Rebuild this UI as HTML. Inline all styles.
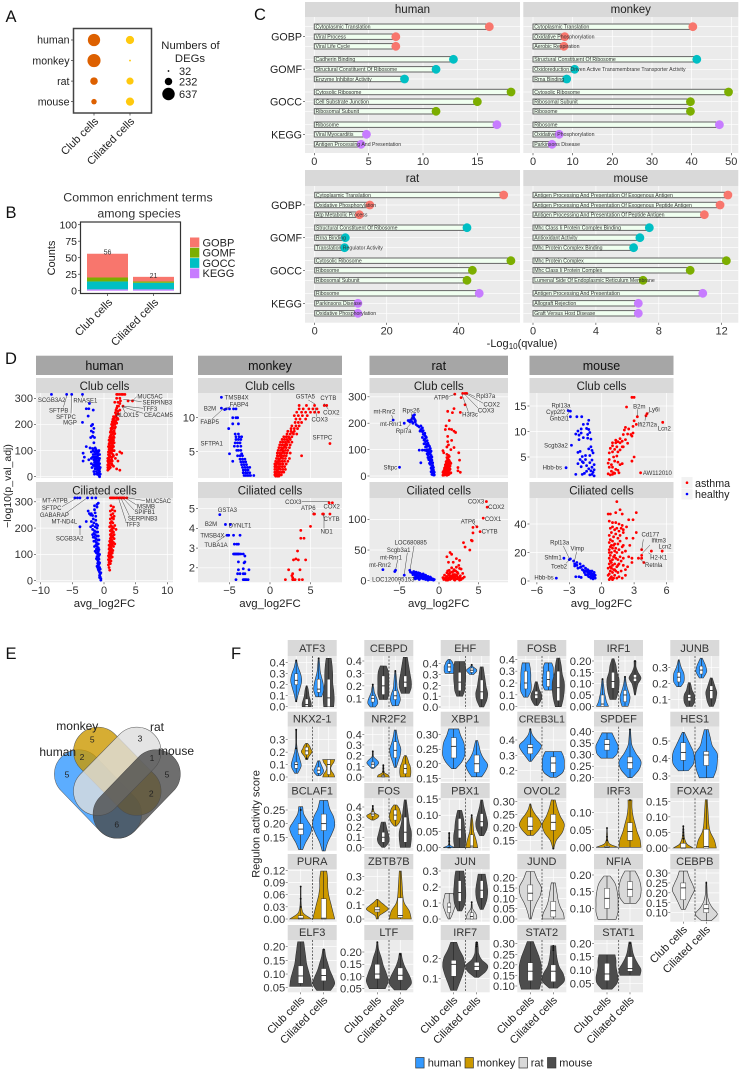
<!DOCTYPE html>
<html lang="en">
<head>
<meta charset="utf-8">
<title>Multi-species asthma figure</title>
<style>
html,body{margin:0;padding:0;background:#fff;}
svg{display:block;font-family:"Liberation Sans",sans-serif;}
</style>
</head>
<body>
<svg id="figure" xmlns="http://www.w3.org/2000/svg" width="740" height="1071" viewBox="0 0 740 1071">
<rect width="740" height="1071" fill="#fff"/>
<g font-size="16.5" fill="#111" text-anchor="middle">
<text x="11" y="22">A</text>
<text x="11" y="218">B</text>
<text x="260" y="20">C</text>
<text x="11" y="364">D</text>
<text x="11" y="659">E</text>
<text x="236" y="659">F</text>
</g>
<g>
<rect x="45.9" y="769.7" width="104.2" height="48.6" rx="24.3" transform="rotate(46 98 794)" fill="#3399ff" fill-opacity=".8" stroke="#555" stroke-width=".5"/>
<rect x="65.2" y="747" width="104.2" height="48.6" rx="24.3" transform="rotate(45.5 117.3 771.3)" fill="#cc9900" fill-opacity=".8" stroke="#555" stroke-width=".5"/>
<rect x="65.2" y="747" width="104.2" height="48.6" rx="24.3" transform="rotate(-45.5 117.3 771.3)" fill="#dddddd" fill-opacity=".8" stroke="#555" stroke-width=".5"/>
<rect x="84.6" y="769.7" width="104.2" height="48.6" rx="24.3" transform="rotate(-46 136.7 794)" fill="#4a4a4a" fill-opacity=".8" stroke="#444" stroke-width=".5"/>
<g font-size="12" fill="#222" text-anchor="middle">
<text x="77.3" y="730">monkey</text>
<text x="157" y="731">rat</text>
<text x="57.7" y="756">human</text>
<text x="176" y="755">mouse</text>
</g>
<g font-size="8.5" fill="#222" text-anchor="middle">
<text x="92.3" y="742.3">5</text>
<text x="140" y="741.7">3</text>
<text x="82" y="760">2</text>
<text x="152" y="761">1</text>
<text x="67" y="777.7">5</text>
<text x="167" y="777.3">5</text>
<text x="151.3" y="796.7">2</text>
<text x="116.7" y="827.7">6</text>
</g>
</g>
<g font-size="11" fill="#222">
<rect x="415.7" y="1057.5" width="8.4" height="10.5" fill="#3399ff" stroke="#333" stroke-width=".7"/>
<text x="427.7" y="1066.5">human</text>
<rect x="465" y="1057.5" width="8.4" height="10.5" fill="#cc9900" stroke="#333" stroke-width=".7"/>
<text x="476.7" y="1066.5">monkey</text>
<rect x="519" y="1057.5" width="8.4" height="10.5" fill="#d9d9d9" stroke="#333" stroke-width=".7"/>
<text x="530.7" y="1066.5">rat</text>
<rect x="547.5" y="1057.5" width="8.4" height="10.5" fill="#4d4d4d" stroke="#333" stroke-width=".7"/>
<text x="559.3" y="1066.5">mouse</text>
</g>
<text x="0" y="0" transform="translate(259.5 824) rotate(-90)" font-size="11" fill="#222" text-anchor="middle">Regulon activity score</text>
<g font-size="10.7" fill="#222">
<rect x="681.5" y="477" width="11" height="11" fill="#f2f2f2"/>
<rect x="681.5" y="488.5" width="11" height="11" fill="#f2f2f2"/>
<circle cx="687" cy="482.7" r="1.3" fill="#ff0000"/>
<circle cx="687" cy="494" r="1.3" fill="#0000ff"/>
<text x="695" y="487">asthma</text>
<text x="695" y="498">healthy</text>
</g>
<text transform="translate(11 486) rotate(-90)" font-size="10.5" fill="#222" text-anchor="middle">−log10(p_val_adj)</text>
<text x="522" y="347" font-size="11" fill="#222" text-anchor="middle">-Log<tspan font-size="8" dy="2">10</tspan><tspan dy="-2">(qvalue)</tspan></text>
</svg>
<script>
/* ---------- panel A data ---------- */
const degSpecies=['human','monkey','rat','mouse'];
const degCells=['Club cells','Ciliated cells'];
const degClub=[560,637,210,110];
const degCiliated=[250,14,190,250];
const degLegendSizes=[32,232,637];
/* ---------- panel B data ---------- */
const termCategories=['GOBP','GOMF','GOCC','KEGG'];
const termClub=[36,6,12,2];
const termCiliated=[7,2,10,2];
const termTicks=[0,25,50,75,100];
/* ---------- panel C data ---------- */
const humanTerms=['Cytoplasmic Translation','Viral Process','Viral Life Cycle','Cadherin Binding','Structural Constituent Of Ribosome','Enzyme Inhibitor Activity','Cytosolic Ribosome','Cell Substrate Junction','Ribosomal Subunit','Ribosome','Viral Myocarditis','Antigen Processing And Presentation'];
const humanScores=[16.1,7.5,7.5,12.8,11.2,8.3,18.1,15,11.2,16.8,4.8,4.3];
const monkeyTerms=['Cytoplasmic Translation','Oxidative Phosphorylation','Aerobic Respiration','Structural Constituent Of Ribosome','Oxidoreduction Driven Active Transmembrane Transporter Activity','Rrna Binding','Cytosolic Ribosome','Ribosomal Subunit','Ribosome','Ribosome','Oxidative Phosphorylation','Parkinsons Disease'];
const monkeyScores=[40.3,8,7.8,41.3,10.5,8.5,49.3,39.7,39.7,47,6.6,4.8];
const ratTerms=['Cytoplasmic Translation','Oxidative Phosphorylation','Atp Metabolic Process','Structural Constituent Of Ribosome','Rrna Binding','Translation Regulator Activity','Cytosolic Ribosome','Ribosome','Ribosomal Subunit','Ribosome','Parkinsons Disease','Oxidative Phosphorylation'];
const ratScores=[52.5,15.3,12.4,42.3,8.5,8.3,54.5,43.8,42.3,45.7,12,12];
const mouseTerms=['Antigen Processing And Presentation Of Exogenous Antigen','Antigen Processing And Presentation Of Exogenous Peptide Antigen','Antigen Processing And Presentation Of Peptide Antigen','Mhc Class Ii Protein Complex Binding','Antioxidant Activity','Mhc Protein Complex Binding','Mhc Protein Complex','Mhc Class Ii Protein Complex','Lumenal Side Of Endoplasmic Reticulum Membrane','Antigen Processing And Presentation','Allograft Rejection','Graft Versus Host Disease'];
const mouseScores=[12.4,11.9,10.9,7.4,6.8,6.4,12.3,10,7,10.8,6.7,6.7];
/* ---------- panel D data: flat x,y pairs ---------- */
const humanClubRed=[.6,25,.6,35,.7,30,.7,45,.8,30,.8,50,.6,60,.7,70,.8,65,.9,40,.9,80,1,35,1,60,1,90,.7,95,.8,105,.9,110,1,115,1.1,100,1.1,75,1.2,50,1.3,45,1.5,40,.8,125,.9,130,1,140,1.1,130,1.2,120,1.3,110,1.4,100,1,155,1.1,160,1.2,150,1.3,145,1.4,135,1.1,175,1.2,180,1.3,170,1.4,165,1.5,155,1.6,130,1.3,190,1.4,195,1.5,185,1.6,175,1.7,165,1.5,205,1.6,215,1.7,200,1.8,190,1.6,225,1.8,230,1.9,215,2,205,1.8,245,2,240,2.1,225,2.2,250,2,262,2.3,270,2.5,255,1.7,285,2.2,285,2.6,290,2.5,300,2,300,2,315,2.2,315,2.5,315,2.8,315,3,315,3.3,315,3.8,290,3,270,2.5,280,4.5,290,2.5,95,2.8,90,1.6,100,2,85,1.8,70,2.2,60,2,30,2.5,25,1.5,80,.7,85,.9,60,1.1,50,.8,80,.6,45,.7,115,.8,140,.9,150,1,170,1.1,185,1.2,200,1.3,210,1.4,220,1.5,230,.9,95,1.2,90,1.3,75,1.3,60,1.2,65,.7,55,.6,70,2.2,220,2.3,240,2.1,270,1.9,255,1.4,120,1.5,115,1.5,140,1.6,150,1.7,185,1.9,235,1.8,210,1.3,130,1.2,135,1.2,105,1,105,1.4,85,1,75,1.5,170,1.7,215,2,225,1.4,210,1.1,145,.9,120];
const humanClubBlue=[-.7,0,-.8,5,-.6,10,-.9,8,-1,15,-1.2,20,-.8,25,-.7,20,-1.5,10,-1.1,35,-1,40,-.8,40,-.7,50,-.9,55,-1.3,50,-1.5,55,-1.1,60,-.9,70,-1,80,-1.2,75,-1.4,70,-1.1,90,-.9,95,-.8,100,-1.3,105,-1.5,95,-1.7,85,-2,70,-2.4,65,-3.3,60,-3.1,75,-3.3,90,-2.8,115,-2.2,110,-1.6,130,-1.5,150,-1.8,155,-2.1,150,-1.7,170,-2,175,-1.6,185,-2,195,-1.8,200,-3.4,208,-2.5,232,-1.7,255,-2.4,260,-2.8,260,-2.3,280,-3.4,315,-5.1,315,-5.9,315,-8.3,315,-.8,12,-1,28,-1.2,32,-1,52,-.8,62,-1.2,42,-1.4,30,-1.6,20,-1.1,10,-.9,30,-1.3,88,-1.1,70,-.9,85,-1.2,100,-1.4,85,-1.8,108,-.7,30,-.6,35,-1.5,40,-1.6,65,-1.9,35,-2,50,-1.7,45,-1.3,62,-1.5,75,-1.7,100,-1.4,110,-2,95,-1.8,75,-.7,70,-.7,85,-1.2,55,-1.4,45,-.9,45];
const humanCilRed=[.9,40,.8,50,.7,60,.8,70,.9,75,1,65,.7,80,.8,90,.9,95,1,85,1.1,75,.8,105,.9,110,1,100,1.1,95,1.3,90,.8,120,.9,125,1,115,1.1,110,1.3,105,.9,135,1,130,1.1,125,1.2,120,1.4,115,1,145,1.1,150,1.2,140,1.3,135,1.5,130,1,160,1.1,165,1.2,155,1.3,150,1.5,145,1.1,175,1.2,180,1.3,170,1.4,165,1.6,160,1,190,1.2,195,1.3,190,1.5,185,.9,205,1.1,210,1.3,205,1.5,200,1,220,1.2,225,1.4,220,1,235,1.3,240,1.5,235,1.1,250,1.4,255,1,265,1.3,270,1.7,265,1.1,285,1.5,280,1,315,1.2,315,1.4,315,1.6,315,1.9,315,2.1,315,2.4,315,2.6,315,2.8,315,3,315,3.2,315,3.6,315,.7,95,.8,135,.9,150,1,175,1.7,140,1.6,175,1.7,210,1.6,245,1.9,195];
const humanCilBlue=[-.5,2,-.5,8,-.6,14,-.7,20,-.6,26,-.7,32,-.8,38,-.6,44,-.7,50,-1.1,55,-.9,58,-.8,62,-.7,68,-.9,72,-1,78,-.8,82,-.9,88,-1.1,92,-.8,96,-1,102,-1.2,106,-.9,110,-1,116,-1.2,120,-.9,125,-1.1,130,-1.3,134,-1,140,-1.2,145,-1.4,150,-1,155,-1.3,160,-1.5,165,-1.1,170,-1.4,175,-1.6,180,-1.2,185,-1.5,190,-1.8,195,-1.1,200,-1.4,205,-1.8,210,-2.1,205,-1.2,215,-1.6,220,-2,225,-2.8,225,-3.8,205,-1.3,230,-1.7,235,-1.3,245,-1.8,248,-1.4,258,-2,255,-1.5,270,-2.3,255,-2.5,265,-2.1,250,-1.5,285,-1.1,280,-.9,295,-1.1,290,-1.9,315,-1.3,315,-2.6,315,-3.8,315,-4.2,315,-4.6,315,-.5,30,-.9,42,-1,66,-1.2,84,-.7,100,-.8,118,-.9,140,-1.5,130,-.8,155,-1.4,112,-.7,12,-1,50,-1.6,150,-1.7,165,-1.8,175,-.9,170,-1,185,-1,210];
const monkeyClubRed=[.6,1.6,.8,1.6,1,1.6,1.2,1.6,1.4,1.6,.6,2,.8,2,1,2,1.2,2,1.5,2,1.7,2,.6,2.4,.8,2.4,1,2.4,1.3,2.4,1.6,2.4,1.9,2.4,.6,2.8,.8,2.8,1,2.8,1.2,2.8,1.5,2.8,1.8,2.8,.6,3.2,.8,3.2,1.1,3.2,1.3,3.2,1.6,3.2,2,3.2,.7,3.6,1,3.6,1.2,3.6,1.5,3.6,1.8,3.6,2.2,3.6,.8,4,1,4,1.3,4,1.6,4,1.9,4,2.4,4,3.9,4.4,.9,4.4,1.1,4.4,1.4,4.4,1.7,4.4,2,4.4,.9,4.8,1.2,4.8,1.5,4.8,1.8,4.8,2.1,4.8,2.5,4.8,1,5.2,1.3,5.2,1.6,5.2,1.9,5.2,2.2,5.2,1.1,5.6,1.4,5.6,1.7,5.6,2,5.6,2.4,5.6,1.2,6,1.5,6,1.8,6,2.1,6,2.5,6,1.3,6.4,1.6,6.4,1.9,6.4,2.3,6.4,2.7,6.4,1.5,6.8,1.8,6.8,2.1,6.8,2.5,6.8,1.7,7.2,2,7.2,2.3,7.2,2.7,7.2,2.1,7.6,2.5,7.6,2.9,7.6,3.3,7.6,2.2,8,2.6,8,3,8,2.6,8.4,3,8.4,3.4,8.4,2.7,8.8,3.2,8.8,3.6,8.8,3.1,9.3,3.5,9.3,3.9,9.3,3.2,9.8,3.7,9.8,4.4,9.8,3,10.3,3.5,10.3,4,10.3,4.6,10.3,3.3,10.8,3.9,10.8,4.4,10.8,5,10.8,5.5,10.8,6,10.8,3.6,11.3,4.1,11.3,4.8,11.3,5.3,11.3,5.8,11.3,5.5,11.8,4.5,11.8,3.6,11.8,6.7,11.8,7,11.8,7.4,6.2,.7,1.4,.9,1.4,1.1,1.4,.7,1.8,.9,2.2,1.1,2.6,.7,3,.9,3.4,1.1,3.8,1.4,4.2,1.3,4.6,1.6,5,1.5,5.4,1.8,5.8,2,6.2,2.2,6.6,2.4,7,2.8,7.8];
const monkeyClubBlue=[-3.2,1.5,-3,1.5,-2.8,1.5,-2.6,1.5,-2.4,1.5,-2,1.5,-3.3,1.9,-3,1.9,-2.8,1.9,-2.5,1.9,-3.3,2.3,-3,2.3,-2.7,2.3,-3.4,2.7,-3.1,2.7,-2.8,2.7,-3.5,3.1,-3.2,3.1,-2.9,3.1,-3.6,3.5,-3.3,3.5,-3,3.5,-4.6,3.6,-3.7,3.9,-3.4,3.9,-3.1,3.9,-4,4.4,-3.7,4.4,-3.4,4.4,-3.5,4.7,-5,4.7,-3.9,5.2,-3.6,5.2,-4.1,5.2,-3.6,5.8,-4,5.8,-4.4,5.8,-4,6.3,-3.7,6.3,-4.3,6.3,-4.2,6.8,-3.9,6.8,-3.6,6.8,-4.2,7.2,-3.8,7.2,-3.5,7.2,-3.9,7.6,-4.3,7.6,-5.1,8.4,-4.6,9.1,-3.9,9.1,-4.6,10,-4.2,10,-4,10,-5,11.3,-4.5,11.3,-4.2,11.3,-5.4,11.3,-6,11.4,-5.6,11.2,-6,13,-7.4,-4,-3.3,1.9,-2.5,2.7];
const monkeyCilRed=[7.3,5.3,7.7,5.3,5.4,4.73,5.5,4.73,6.5,4.73,6.6,4.73,7.4,4.73,5,4.1,3.8,3.9,3.8,3.5,4.2,3.5,3.4,2.85,2.9,2.4,3.2,2.45,3.5,2.4,4.4,2.4,2.3,1.9,2.8,1.7,3.7,1.9,1.9,1.4,2.7,1.6,2.8,1.5,3,1.4,3.1,1.4,2.8,1.4,3.6,1.4,4,1.4];
const monkeyCilBlue=[-6.2,4.7,-5.5,4.2,-4.9,4.2,-5.3,3.65,-5.1,3.65,-4.5,3.65,-3.7,3.65,-4.4,3.2,-4.1,3.2,-3.9,3.2,-4.5,2.7,-4.4,2.7,-4.3,2.7,-4.2,2.7,-4.1,2.7,-4,2.7,-3.9,2.7,-3.8,2.7,-3.6,2.7,-3.3,2.7,-3.1,2.6,-3.9,2.3,-3.1,2.3,-3.2,2.25,-3.9,1.9,-2.6,1.9,-3.3,1.95,-4,1.7,-3.7,1.7,-3.3,1.7,-3.1,1.7,-4.2,1.4,-3.3,1.4,-3.2,1.4,-3.1,1.4,-3,1.4,-2.9,1.4,-2.7,1.4];
const ratClubRed=[.5,3,.6,8,.7,4,.8,12,.9,6,1,3,1.1,10,1.2,5,.5,14,.6,20,.7,18,.8,24,.9,16,1,22,1.1,18,1.2,14,1.3,8,.7,30,.8,34,.9,28,1,32,1.1,26,1.2,24,1.3,22,1.5,12,.8,42,.9,46,1,40,1.1,38,1.2,34,1.3,30,1.4,26,.9,54,1,58,1.1,50,1.2,48,1.3,44,1.4,38,.5,96,.6,88,1,70,1.1,66,1.2,62,1.3,58,1.4,52,1.5,48,1,82,1.2,78,1.3,74,2.4,20,2.4,32,2.7,14,2.6,60,2.5,88,1,110,1.2,118,1.5,100,1.9,108,1.6,135,1.1,130,1.1,150,1.6,176,1.3,178,.9,190,.8,176,2.1,165,1.9,170,1.3,210,1.7,240,1.1,245,1.9,255,2.7,241,3.3,270,2.8,297,2,310,3,313,3.3,313,3.5,313,.6,12,.7,10,.8,6,.9,20,.7,24,.8,18,1,14,1.2,20,1.3,36,1.1,32,1,46];
const ratClubBlue=[-.6,4,-.6,14,-.7,10,-.7,22,-.9,6,-1,16,-.8,30,-.9,24,-1.1,44,-.8,40,-.9,36,-1,30,-1,50,-1.1,56,-1.2,48,-.9,60,-1,68,-1.1,64,-1.2,72,-1.3,62,-1.4,80,-1.2,84,-1.1,88,-1.3,92,-1.4,88,-2.3,50,-1.8,98,-2.1,98,-2.5,98,-1.5,100,-1.6,96,-1.3,100,-1.5,112,-1.3,116,-1.6,120,-1.4,124,-1.7,130,-1.5,134,-1.8,140,-1.6,146,-1.9,136,-1.8,154,-2,158,-1.8,162,-2.1,168,-2,172,-2.3,176,-2.1,182,-2.5,186,-2.3,190,-2.7,190,-2.9,195,-3,205,-3,210,-3.3,200,-3.1,215,-3.4,218,-3.2,222,-3.6,212,-3.7,205,-3.9,210,-3.3,228,-3.1,232,-3.4,206,-5,33,-4.4,200,-5.8,212,-.7,32,-.8,50,-.9,72,-1,78,-1,94,-1.1,104,-1.2,112,-1.5,84,-1.4,70,-.8,14,-.7,4,-1.7,110,-1.9,122,-1.7,150,-2.1,146,-2.4,170];
const ratCilRed=[6,129,6.1,120,5.6,102,4.8,88,5.2,80,4.3,87,4.3,78,4.1,66,4.2,65,3.1,62,3.3,55,3.9,50,1.4,46,1.6,43,1,39,2.2,36,2.6,33,1.8,30,1.2,30,.6,2,.8,4,.9,1,1,7,1.1,3,1.2,11,1.3,5,1.4,2,1.5,8,1.6,14,1.7,4,1.8,10,1.9,2,2,6,2.1,16,2.2,9,2.3,3,2.4,12,2.5,5,2.6,20,2.7,8,2.8,2,3,12,3.2,6,.7,9,1,13,1.3,17,1.6,21,1.9,18,2.2,22,2.5,25,2.8,19,.9,5,1.5,3,2,10,2.4,4,.5,5,1.1,1,1.3,9,1.7,8,1.9,6,2.1,3,2.3,7,2.7,4,3,4,1.4,13,1.8,15,2.3,14,1.1,16,1.6,6,2,1,2.6,1];
const ratCilBlue=[-7.1,18,-5.5,17,-5.6,15,-4.4,9,-3.7,17,-3.6,14,-3.4,13,-3.2,15,-3.1,12,-2.9,14,-2.8,4,-2.8,11,-2.6,13,-2.5,9,-2.4,12,-2.2,10,-2.1,6,-2,11,-1.9,8,-1.8,5,-1.7,9,-1.6,6,-1.5,3,-1.4,7,-1.3,5,-1.2,2,-1.1,6,-1,4,-.9,2,-.8,3,-.7,1,-.6,2,-2.9,7,-2.6,5,-2.3,4,-2,3,-1.7,2,-1.4,1,-3.1,5,-3,3,-2.5,2,-3.3,10,-2.7,8,-2.3,7,-1.8,7,-1.5,5,-1.2,4,-1.6,4,-2.1,8,-1,2,-3,9,-2.4,9];
const mouseClubRed=[.6,1.7,.7,3,.8,1.5,.9,2.2,1,1.6,1.1,1.9,1.2,1.8,.6,3.8,.7,4.5,.9,3.5,1,3,1.3,2.6,1.5,2.4,1.7,3.5,1.6,1.9,1.9,3.7,.7,5.8,.8,6.7,1,6,1.1,5,1.2,4.2,1.4,5.2,1.5,4,1,7.2,1.2,6.5,1.4,7,1.5,6,1.7,6.4,1,7.8,1.3,7.8,1.5,8,1.7,7.8,1.9,7,2,7,1.7,8.6,1.9,8.1,1.3,8.3,2.2,8.4,2.4,7.7,2,9.4,2.1,10.3,2.2,10.8,2.4,9.5,2.7,9.4,2.8,9.1,2.9,9.7,2.5,10.5,2.9,11,3,12.1,3.2,11.4,3.3,12.9,2.3,14.8,2.8,16.7,3,16.7,4.2,13.5,4.1,13.1,5.65,11.8,3,5,2.8,4.2,3.6,1.9];
const mouseClubBlue=[-3.1,14.1,-2.9,14,-2.9,12.9,-2.3,12.9,-1.85,12.9,-1.2,12.2,-1.3,11.5,-1.7,11.4,-1.9,10.5,-2.2,10.1,-1.9,9.7,-1.4,10.6,-1.2,10.4,-1.1,9.8,-2.4,9.5,-2.1,9.3,-1.3,9.4,-1,8.5,-1.3,8.7,-1.7,8.8,-2.1,8.4,-2.8,7.3,-1,7,-.9,6.3,-1.2,6.6,-2,6.1,-2.2,5.9,-1.1,5.3,-1.5,5.3,-1.8,5.1,-.8,5.8,-2,4.5,-1.5,4.5,-.9,4.4,-1.1,3.9,-1.7,3.9,-2.2,3.7,-.7,3.5,-1.4,3.3,-1.9,3.1,-.9,3,-1.2,2.7,-.7,2.5,-1,2.3,-.8,2,-1.4,2.2,-1.6,1.8,-.9,1.6,-1.1,1.5,-.7,1.3,-2.4,1.6,-1.8,1.6,-3.3,2.9,-1.8,4.1];
const mouseCilRed=[.7,1,.8,2,.9,3,1,1,1.1,2,1.2,4,1.4,2,1.6,3,1.9,2,.7,5,.8,7,.9,9,1,6,1.1,8,1.3,7,1.5,6,1.8,7,2.2,8,.7,12,.8,14,.9,13,1,11,1.2,12,1.4,10,1.6,12,2,11,2.4,10,.7,16,.8,18,.9,20,1.1,17,1.3,16,1.5,15,1.7,17,2,16,2.5,17,2.8,16,3.4,16,3.7,16,.7,22,.8,24,1,23,1.2,21,1.4,20,1.6,22,1.9,20,2.2,21,.7,27,.8,29,1,28,1.2,26,1.5,26,1.7,28,2,25,2.6,25,.7,32,.9,34,1.1,31,1.3,33,1.5,30,1.7,32,2,34,2.3,30,2.9,30,3.2,34,.8,37,1,38,1.2,36,1.4,37,1.6,35,1.8,37,2,36,2.3,38,.7,42,1,41,1.3,41,1.6,40,1.9,39,2.5,43,2.9,43,.6,47,.8,47,1.3,48,1.7,50,1.9,47,1.4,55.7,3.2,48,3.7,22,3.7,18,4.6,21,5.6,21,3.9,13,2.8,13,2.2,4,1,15,1.2,8,.8,10,.6,4,.6,9,.7,20,.9,25,1.1,25,1.3,23,1.9,24,1.2,18,1.5,11,1.8,14];
const mouseCilBlue=[-4.2,2,-3.5,16,-3,15,-2.9,15.5,-2.6,14,-2.5,12,-2.5,10.5,-2.3,13,-2,12,-1.9,10,-2.2,9,-1.8,8,-1.7,10.5,-1.5,9,-1.4,7,-1.6,6,-1.3,8,-1.2,5.5,-1.1,7,-1,6,-.9,4,-.8,5,-.7,3,-.6,2,-1.1,3,-1.3,4,-1.5,4.5,-2.4,3,-2.1,3,-1.9,2.5,-1,2,-.8,1.5,-.6,4,-.7,6,-.9,7,-1.2,3,-1.5,7,-1.3,6,-1,4.5,-.8,3,-1.1,5,-.9,2.5,-.7,4.5,-1.7,7.5,-1.2,7,-2,9.5,-2.3,11];
/* ---------- panel F data: [species, low, high, density profile, q1, median, q3, outliers] ---------- */
const violinATF3=[['human',.05,.42,[.5,2,4,5.5,4.5,2,.5],.2,.24,.3,[.05,.42]],['mouse',0,.19,[4.5,4.5,3.5,2.5,2,1.5,.5],0,.02,.07,[]],['human',.09,.44,[3,5,4.5,3,1.5,1,.5],.13,.16,.25,[.44]],['mouse',0,.44,[5,5.5,5,4,4,3.5,2.5],0,.08,.25,[]]];
const violinCEBPD=[['human',.03,.21,[2.5,5,4.5,3,1.5,1,.3],.07,.1,.12,[.21]],['mouse',.09,.36,[4,5.5,5.5,5.5,5.5,5,3],.13,.2,.28,[]],['human',.04,.32,[3,5,4,2,1.5,1,.5],.09,.12,.16,[.32]],['mouse',.14,.43,[4,6,6,5,4,3,2],.19,.23,.28,[]]];
const violinEHF=[['human',.31,.44,[4,5,5,5,4,3,1],.33,.37,.4,[]],['mouse',.1,.42,[3,5,5.5,6,6,6,5],.15,.23,.32,[]],['human',.3,.39,[2,3.5,5,5,3,1,.5],.32,.34,.36,[.39]],['mouse',0,.37,[2,5,6,4.5,3.5,2.5,1.5],.07,.14,.25,[]]];
const violinFOSB=[['human',.08,.37,[2,5,5.5,5,5,4.5,3.5],.15,.2,.3,[]],['mouse',.01,.21,[1.5,4,5.5,5,3,2,1],.07,.1,.13,[]],['human',.14,.37,[3.5,5.5,5.5,5.5,5,5,3.5],.17,.23,.3,[]],['mouse',0,.41,[3,5,6,6,4,3,1.5],.05,.16,.3,[]]];
const violinIRF1=[['human',0,.12,[6,4,3,2,1.5,1,.5],0,.01,.05,[.12]],['mouse',.03,.21,[3,5,6,6,4,3,1],.08,.11,.15,[]],['human',0,.13,[3,4.5,5,3.5,2,1,.5],.02,.05,.07,[.13]],['mouse',.05,.2,[.5,1.5,3,6,3,1,1],.11,.125,.14,[.2]]];
const violinJUNB=[['human',.18,.35,[2,5,5.5,5,3,1.5,.5],.21,.24,.27,[]],['mouse',.055,.205,[3,5,5.5,5,3,2,1],.09,.11,.13,[]],['human',.235,.36,[2,4,5.5,5,4,2.5,1],.26,.285,.31,[]],['mouse',.055,.235,[2,4,5,5.5,4,2.5,1],.105,.155,.185,[]]];
const violinNKX21=[['human',.03,.38,[1.5,5,3.5,1.5,.5,.5,.5],.07,.1,.12,[.23,.38]],['monkey',.14,.27,[1,2,4,5.5,4,3,1],.18,.21,.24,[.15]],['human',.01,.13,[1.5,4,5,4,3,2,1],.03,.055,.08,[]],['monkey',0,.14,[6,5,3,2,3,5,6],.02,.1,.14,[]]];
const violinNR2F2=[['human',.08,.24,[1,4,6,4,1,.5,.5],.09,.12,.14,[.24]],['monkey',0,.11,[6,5,1.5,.7,.5,.5,.5],0,.01,.02,[.05,.08,.11]],['human',.09,.44,[1,3,5,5.5,3.5,2,1],.18,.25,.33,[]],['monkey',0,.2,[5,5.5,5.5,5,3.5,2.5,1],.03,.08,.12,[]]];
const violinXBP1=[['human',.183,.32,[2,8,11,11,10,7,5],.22,.26,.29,[]],['human',.155,.28,[5,9,11,7,4,2.5,1],.17,.2,.23,[]]];
const violinCREB3L1=[['human',.26,.47,[1,5,9,11,6,2,.5],.31,.35,.37,[.47]],['human',.157,.325,[3,9,11,11,11,10,8],.19,.25,.29,[]]];
const violinSPDEF=[['human',.285,.395,[6,10,11,11,9,7,5],.32,.345,.365,[]],['human',.2,.41,[2,9,11,6,2,1,.5],.24,.265,.29,[.41]]];
const violinHES1=[['human',.33,.55,[5,10,11,10,7,4,1],.39,.435,.49,[]],['human',.29,.565,[7,10,11,11,6,4,2],.36,.42,.44,[]]];
const violinBCLAF1=[['human',.105,.262,[2,5,9,11,7,3,2],.16,.18,.2,[.25]],['human',.1,.285,[1.5,4,8,11,10,6,4],.175,.2,.235,[]]];
const violinFOS=[['monkey',.27,.41,[1,5,6,2,1,.5,.5],.31,.33,.35,[.38,.41]],['mouse',0,.25,[1.5,5,6,5,4,3,2],.05,.1,.15,[]],['monkey',.21,.42,[1,4,5.5,6,5,4,1.5],.27,.32,.37,[]],['mouse',0,.47,[5,6,6,4,3,2,1],.05,.15,.3,[]]];
const violinPBX1=[['human',0,.045,[6,1,.5,.5,.5,.5,.5],0,0,.001,[.01,.02,.03,.045]],['mouse',0,.115,[5,6,6,5,4.5,3.5,2],.03,.055,.09,[]],['monkey',0,.1,[6,5,3.5,2,1.5,1,.3],0,.005,.04,[.1]],['mouse',.037,.147,[2,5,6,5,3.5,2,1],.065,.08,.105,[]]];
const violinOVOL2=[['monkey',.17,.29,[3,8,11,9,5,2,.5],.19,.205,.24,[]],['monkey',.12,.305,[.5,3,9,11,7,4,2],.19,.22,.25,[.12]]];
const violinIRF3=[['monkey',0,.055,[11,3,1,.5,.5,.3,.3],0,0,.003,[.02,.03,.055]],['monkey',0,.135,[11,10,7,5,3,2,2],.02,.045,.07,[.135]]];
const violinFOXA2=[['monkey',0,.07,[10,4,2,1,.7,.5,.3],0,0,.015,[.03,.04,.05,.06,.07]],['monkey',0,.155,[10,8,4,2.5,2,1.5,1],0,.005,.06,[]]];
const violinPURA=[['monkey',0,.08,[11,3,1,.5,.3,.3,.3],0,.002,.008,[.03,.05,.08]],['monkey',0,.118,[11,9,7,5,4,4,3],0,.002,.05,[]]];
const violinZBTB7B=[['monkey',0,.14,[1,2,7,11,8,4,.5],.05,.065,.085,[]],['monkey',0,.34,[11,9,4,2.5,2,1.5,1],.01,.025,.15,[]]];
const violinJUN=[['rat',0,.16,[1,3,4.5,6,6,5,4],.04,.075,.1,[]],['mouse',.05,.3,[2,5,6,6,5.5,5,4],.11,.165,.24,[]],['rat',0,.105,[5,5,4,2,.7,.5,.3],0,.015,.04,[.105]],['mouse',.06,.28,[1.5,4,5.5,6,5.5,4.5,3.5],.13,.18,.24,[]]];
const violinJUND=[['rat',0,.23,[1,3,6,10,11,7,4],.09,.125,.165,[]],['rat',0,.175,[11,10,7,5,4,3,2],.01,.04,.085,[]]];
const violinNFIA=[['rat',.067,.197,[9,11,11,11,10,8,3],.1,.13,.16,[]],['rat',.115,.212,[6,10,11,11,10,8,5],.135,.157,.18,[]]];
const violinCEBPB=[['rat',.117,.31,[2,5,8,11,9,6,4],.165,.225,.25,[]],['rat',.06,.255,[5,11,6,2.5,1,.7,.3],.1,.12,.14,[.25]]];
const violinELF3=[['mouse',.055,.218,[11,10,8,6,5,4,3],.066,.093,.13,[]],['mouse',.04,.19,[7,11,9,6,4,2,1],.075,.095,.12,[.19]]];
const violinLTF=[['mouse',.05,.24,[8,11,9,6,4,1.5,.5],.09,.11,.15,[.24]],['mouse',.045,.195,[6,11,10,7,4,2,1],.085,.105,.135,[.19]]];
const violinIRF7=[['mouse',.04,.28,[3,6,9,11,10,6,3],.11,.17,.19,[]],['mouse',.105,.28,[2,9,11,5,2,1.5,1],.14,.16,.18,[.26,.27,.28]]];
const violinSTAT2=[['mouse',.085,.31,[9,11,11,11,9,6,3],.125,.17,.21,[]],['mouse',.09,.29,[4,11,10,6,4,3,2.5],.12,.17,.2,[.27,.28,.29]]];
const violinSTAT1=[['mouse',.028,.157,[5,10,11,10,9,9,8],.06,.085,.125,[]],['mouse',.08,.205,[10,11,8,5,3,2,1],.095,.105,.15,[.2]]];

const svgNS='http://www.w3.org/2000/svg';
const root=document.getElementById('figure');
function mk(tag,attrs,parent,txt){
  const el=document.createElementNS(svgNS,tag);
  for(const k in attrs) el.setAttribute(k,attrs[k]);
  if(txt!==undefined) el.textContent=txt;
  (parent||root).appendChild(el);
  return el;
}
function tag(el,name){
  
  
  return el;
}
function group(name,parent){return tag(mk('g',{},parent),name);}
function slug(s){return String(s).toLowerCase().replace(/[^a-z0-9]+/g,'-');}
const INK='#222',GRID='#fff',PANEL='#ebebeb',STRIP='#d9d9d9';
function fmtMinus(t){return String(t).replace('-','−');}
function rotLabel(g,text,x,y,size){
  tag(mk('text',{transform:`translate(${x} ${y}) rotate(-45)`,'font-size':size,fill:INK,'text-anchor':'end'},g,text),'x-tick-label-'+slug(text));
}

/* ========== Panel A ========== */
(function(){
  const g=group('deg-dot-plot');
  const xA=j=>94+36*j, yA=i=>40+i*20.55, rA=n=>.26*Math.sqrt(n);
  tag(mk('rect',{x:73.5,y:28.5,width:78,height:84.5,fill:'#fff',stroke:'#444','stroke-width':1.5},g),'dot-plot-frame');
  degSpecies.forEach((s,i)=>{
    tag(mk('text',{x:69.5,y:yA(i)+3.7,'font-size':10.6,fill:INK,'text-anchor':'end'},g,s),'y-tick-label-'+s);
    tag(mk('circle',{cx:xA(0),cy:yA(i),r:rA(degClub[i]),fill:'#dd6000'},g),'dot-club-'+s);
    tag(mk('circle',{cx:xA(1),cy:yA(i),r:rA(degCiliated[i]),fill:'#ffc90e'},g),'dot-ciliated-'+s);
    tag(mk('line',{x1:71,x2:73,y1:yA(i),y2:yA(i),stroke:'#333','stroke-width':.7},g),'y-tick');
  });
  degCells.forEach((c,j)=>{
    tag(mk('line',{x1:xA(j),x2:xA(j),y1:113,y2:115.5,stroke:'#333','stroke-width':.7},g),'x-tick');
    rotLabel(g,c,xA(j)+5,122,11);
  });
  tag(mk('text',{x:190.5,y:49,'font-size':11.3,fill:INK,'text-anchor':'middle'},g,'Numbers of'),'size-legend-title-line-1');
  tag(mk('text',{x:190,y:62,'font-size':11.3,fill:INK,'text-anchor':'middle'},g,'DEGs'),'size-legend-title-line-2');
  degLegendSizes.forEach((n,i)=>{
    const y=[71,81.5,94][i];
    tag(mk('circle',{cx:168.5,cy:y,r:i==0?.9:rA(n)*.95,fill:'#000'},g),'size-legend-dot-'+n);
    tag(mk('text',{x:179,y:y+4,'font-size':11,fill:INK},g,n),'size-legend-label-'+n);
  });
})();

/* ========== Panel B ========== */
(function(){
  const g=group('common-terms-bar-chart');
  const catCols=['#f8766d','#7cae00','#00bfc4','#c77cff'];
  const yB=v=>290.7-v*.66;
  tag(mk('text',{x:138,y:201.5,'font-size':12.4,fill:'#333','text-anchor':'middle'},g,'Common enrichment terms'),'chart-title-line-1');
  tag(mk('text',{x:139,y:217.5,'font-size':12.4,fill:'#333','text-anchor':'middle'},g,'among species'),'chart-title-line-2');
  tag(mk('text',{transform:'translate(55 258) rotate(-90)','font-size':11,fill:INK,'text-anchor':'middle'},g,'Counts'),'y-axis-title');
  tag(mk('rect',{x:80.5,y:222,width:100,height:71.5,fill:'#fff',stroke:'#333','stroke-width':1.2},g),'bar-chart-frame');
  termTicks.forEach(t=>{
    tag(mk('text',{x:77,y:yB(t)+3.7,'font-size':10.5,fill:INK,'text-anchor':'end'},g,t),'y-tick-label-'+t);
    tag(mk('line',{x1:78,x2:80.5,y1:yB(t),y2:yB(t),stroke:'#333','stroke-width':.7},g),'y-tick');
  });
  [termClub,termCiliated].forEach((arr,j)=>{
    const x=87+46*j; let acc=0;
    const total=arr.reduce((a,b)=>a+b,0);
    for(let i=arr.length-1;i>=0;i--){
      tag(mk('rect',{x:x,y:yB(acc+arr[i]),width:41,height:arr[i]*.66,fill:catCols[i]},g),'bar-'+slug(degCells[j])+'-'+termCategories[i].toLowerCase());
      acc+=arr[i];
    }
    tag(mk('text',{x:x+20.5,y:yB(total)+1,'font-size':7,fill:'#333','text-anchor':'middle'},g,total),'bar-total-'+slug(degCells[j]));
    tag(mk('line',{x1:x+20.5,x2:x+20.5,y1:293.5,y2:296,stroke:'#333','stroke-width':.7},g),'x-tick');
    rotLabel(g,degCells[j],x+26,303,11);
  });
  termCategories.forEach((c,i)=>{
    const y=237.5+10.3*i;
    tag(mk('rect',{x:190,y:y,width:9.3,height:9.8,fill:catCols[i]},g),'legend-swatch-'+c.toLowerCase());
    tag(mk('text',{x:202.5,y:y+8.8,'font-size':11,fill:INK},g,c),'legend-label-'+c.toLowerCase());
  });
})();

/* ========== Panel C ========== */
function lollipop(name,terms,scores,px,top,zero,k,xTicks,rows,stripH,panelBottom,labels){
  const g=group('enrichment-facet-'+name);
  const cols=['#f8766d','#00bfc4','#7cae00','#c77cff'];
  const pw=215;
  tag(mk('rect',{x:px,y:top,width:pw,height:stripH,fill:STRIP},g),'strip-'+name);
  tag(mk('text',{x:px+pw/2,y:top+stripH-3.8,'font-size':11.5,fill:INK,'text-anchor':'middle'},g,name),'strip-label-'+name);
  tag(mk('rect',{x:px,y:top+stripH,width:pw,height:panelBottom-top-stripH,fill:PANEL},g),'panel-'+name);
  xTicks.forEach(t=>{
    const x=zero+t*k;
    tag(mk('line',{x1:x,x2:x,y1:top+stripH,y2:panelBottom,stroke:GRID,'stroke-width':.7},g),'x-gridline');
    tag(mk('line',{x1:x,x2:x,y1:panelBottom,y2:panelBottom+2.2,stroke:'#333','stroke-width':.6},g),'x-tick');
    tag(mk('text',{x:x,y:panelBottom+11.8,'font-size':11,fill:'#333','text-anchor':'middle'},g,t),'x-tick-label-'+t);
  });
  rows.forEach(y=>tag(mk('line',{x1:px,x2:px+pw,y1:y,y2:y,stroke:GRID,'stroke-width':.7},g),'y-gridline'));
  terms.forEach((t,i)=>{
    const y=rows[i],xe=zero+scores[i]*k,c=cols[Math.floor(i/3)];
    tag(mk('rect',{x:zero,y:y-2.7,width:xe-zero,height:5.4,fill:'#f0fff0',stroke:'#666','stroke-width':1},g),'term-bar-'+slug(t));
    tag(mk('circle',{cx:xe,cy:y,r:4.4,fill:c},g),'term-dot-'+slug(t));
    tag(mk('text',{x:zero+1.2,y:y+1.8,'font-size':5.2,fill:'#333'},g,t),'term-label-'+slug(t));
  });
  if(labels){
    ['GOBP','GOMF','GOCC','KEGG'].forEach((c,i)=>{
      const y=(rows[i*3]+rows[i*3+2])/2;
      tag(mk('text',{x:302,y:y+4,'font-size':10.7,fill:INK,'text-anchor':'end'},g,c),'row-label-'+c.toLowerCase());
      tag(mk('line',{x1:303,x2:305,y1:y,y2:y,stroke:'#333','stroke-width':.6},g),'y-tick');
    });
  }
}
const rowsTop=[26.7,36.7,46.3,59.3,69.3,79,92,101.7,111.3,124.7,134.3,144.3];
const rowsBot=[195,205,214.7,227.7,237.7,247.7,260.7,270.3,280.3,293.3,303.3,313.3];
lollipop('human',humanTerms,humanScores,305,2,314.3,10.87,[0,5,10,15],rowsTop,15,153,true);
lollipop('monkey',monkeyTerms,monkeyScores,523.3,2,533,3.966,[0,10,20,30,40,50],rowsTop,15,153,false);
lollipop('rat',ratTerms,ratScores,305,170,314.7,3.6,[0,20,40],rowsBot,16,322.7,true);
lollipop('mouse',mouseTerms,mouseScores,523.3,170,533,15.72,[0,4,8,12],rowsBot,16,322.7,false);

/* ========== Panel D ========== */
function volcano(name,px,py,pw,ph,x0,kx,y0,ky,xTicks,yTicks,red,blue,showX){
  const g=group('volcano-'+name);
  tag(mk('rect',{x:px,y:py,width:pw,height:ph,fill:PANEL},g),'panel-'+name);
  const X=v=>x0+v*kx, Y=v=>y0-v*ky;
  xTicks.forEach(t=>{
    tag(mk('line',{x1:X(t),x2:X(t),y1:py,y2:py+ph,stroke:GRID,'stroke-width':.7},g),'x-gridline');
    if(showX){
      tag(mk('line',{x1:X(t),x2:X(t),y1:py+ph,y2:py+ph+2,stroke:'#333','stroke-width':.6},g),'x-tick');
      tag(mk('text',{x:X(t),y:py+ph+11.5,'font-size':11,fill:'#333','text-anchor':'middle'},g,fmtMinus(t)),'x-tick-label');
    }
  });
  yTicks.forEach(t=>{
    tag(mk('line',{x1:px,x2:px+pw,y1:Y(t),y2:Y(t),stroke:GRID,'stroke-width':.7},g),'y-gridline');
    tag(mk('line',{x1:px-2,x2:px,y1:Y(t),y2:Y(t),stroke:'#333','stroke-width':.6},g),'y-tick');
    tag(mk('text',{x:px-3,y:Y(t)+3.8,'font-size':11,fill:'#333','text-anchor':'end'},g,t),'y-tick-label-'+t);
  });
  for(let i=0;i<blue.length;i+=2) tag(mk('circle',{cx:X(blue[i]),cy:Y(blue[i+1]),r:1.4,fill:'#0000ff'},g),'point-healthy');
  for(let i=0;i<red.length;i+=2) tag(mk('circle',{cx:X(red[i]),cy:Y(red[i+1]),r:1.4,fill:'#ff0000'},g),'point-asthma');
  return g;
}
function speciesStrip(name,x,w){
  const g=group('species-strip-'+name);
  tag(mk('rect',{x:x,y:355.7,width:w,height:19.3,fill:'#a6a6a6'},g),'species-strip-background');
  tag(mk('text',{x:x+w/2,y:370,'font-size':12.5,fill:'#111','text-anchor':'middle'},g,name),'species-strip-label');
  tag(mk('rect',{x:x,y:378,width:w,height:15,fill:STRIP},g),'club-strip-background');
  tag(mk('text',{x:x+w/2,y:390,'font-size':11.5,fill:INK,'text-anchor':'middle'},g,'Club cells'),'club-strip-label');
  tag(mk('rect',{x:x,y:482,width:w,height:16,fill:STRIP},g),'ciliated-strip-background');
  tag(mk('text',{x:x+w/2,y:494.5,'font-size':11.5,fill:INK,'text-anchor':'middle'},g,'Ciliated cells'),'ciliated-strip-label');
  tag(mk('text',{x:x+w/2,y:607,'font-size':11.4,fill:INK,'text-anchor':'middle'},g,'avg_log2FC'),'x-axis-title-'+name);
}
speciesStrip('human',36,137);
speciesStrip('monkey',198,144);
speciesStrip('rat',369.5,138.5);
speciesStrip('mouse',529.5,144);
const gHC=volcano('human-club',36,393,137,85,104,6.33,476.7,.2613,[-10,-5,0,5,10],[0,100,200,300],humanClubRed,humanClubBlue,false);
const gHL=volcano('human-ciliated',36,498,137,84.3,104,6.33,580.7,.263,[-10,-5,0,5,10],[0,100,200,300],humanCilRed,humanCilBlue,true);
const gMC=volcano('monkey-club',198,393,144,85,270,8.1,485.7,6.8,[-5,0,5],[5,10],monkeyClubRed,monkeyClubBlue,false);
const gML=volcano('monkey-ciliated',198,498,144,84.3,270,8.1,607.2,19.7,[-5,0,5],[2,3,4,5],monkeyCilRed,monkeyCilBlue,true);
const gRC=volcano('rat-club',369.5,393,138.5,85,439,7.9,476,.264,[-5,0,5],[0,100,200,300],ratClubRed,ratClubBlue,false);
const gRL=volcano('rat-ciliated',369.5,498,138.5,84.3,439,7.9,580.7,.6133,[-5,0,5],[0,50,100],ratCilRed,ratCilBlue,true);
const gOC=volcano('mouse-club',529.5,393,144,85,601.7,10.8,482.5,5.1,[-6,-3,0,3,6],[5,10,15],mouseClubRed,mouseClubBlue,false);
const gOL=volcano('mouse-ciliated',529.5,498,144,84.3,601.7,10.8,581,1.425,[-6,-3,0,3,6],[0,20,40],mouseCilRed,mouseCilBlue,true);

/* gene annotation: zx,zy are offsets in thirds of a pixel from an origin; optional connector */
function gene(g,ox,text,zx,zy,x1,y1,x2,y2){
  if(x1!==undefined) tag(mk('line',{x1:ox+x1/3,y1:350+y1/3,x2:ox+x2/3,y2:350+y2/3,stroke:'#333','stroke-width':.45},g),'gene-connector-'+slug(text));
  tag(mk('text',{x:ox+zx/3,y:350+zy/3+2,'font-size':6,fill:'#333','text-anchor':'middle'},g,text),'gene-label-'+slug(text));
}
gene(gHC,0,'SCGB3A2',155,150);
gene(gHC,0,'RNASE1',256,152,248,142,248,135);
gene(gHC,0,'SFTPB',176,182,190,172,201,135);
gene(gHC,0,'SFTPC',198,201,213,190,215,135);
gene(gHC,0,'MGP',210,217);
gene(gHC,0,'MUC5AC',450,139,410,140,398,152);
gene(gHC,0,'SERPINB3',472,157,425,155,370,148);
gene(gHC,0,'TFF3',450,177,430,175,367,168);
gene(gHC,0,'CEACAM5',475,195,430,190,367,170);
gene(gHC,0,'ALOX15',382,195,375,187,367,170);
gene(gHL,0,'MT-ATPB',165,452);
gene(gHL,0,'SFTPC',155,474,186,470,232,443);
gene(gHL,0,'GABARAP',163,495,200,488,262,443);
gene(gHL,0,'MT-ND4L',193,515);
gene(gHL,0,'SCGB3A2',209,565,240,555,240,532);
gene(gHL,0,'MUC5AC',475,453,435,452,380,443);
gene(gHL,0,'MSMB',438,470,410,465,375,443);
gene(gHL,0,'SPIFB1',434,486,402,480,368,443);
gene(gHL,0,'SERPINB3',428,505,388,497,362,443);
gene(gHL,0,'TFF3',398,524,378,515,355,443);
gene(gMC,0,'TMSB4X',710,143);
gene(gMC,0,'FABP4',717,163,690,170,668,180);
gene(gMC,0,'B2M',630,176);
gene(gMC,0,'FABP5',629,216,635,208,668,178);
gene(gMC,0,'SFTPA1',635,280);
gene(gMC,0,'GSTA5',916,140,925,150,945,162);
gene(gMC,0,'CYTB',985,144);
gene(gMC,0,'COX2',994,187,985,178,972,160);
gene(gMC,0,'COX3',959,209,950,200,945,172);
gene(gMC,0,'SFTPC',967,262);
gene(gML,0,'GSTA3',682,480);
gene(gML,0,'B2M',633,522);
gene(gML,0,'DYNLT1',720,526);
gene(gML,0,'TMSB4X',637,556);
gene(gML,0,'TUBA1A',648,585,650,575,680,555);
gene(gML,0,'COX3',880,456,905,454,988,454);
gene(gML,0,'COX2',995,469);
gene(gML,0,'ATP6',925,474,935,482,942,490);
gene(gML,0,'CYTB',995,507,970,495,972,505);
gene(gML,0,'ND1',980,545,972,535,972,492);
gene(gRC,360,'ATP6',244,143,265,140,285,133);
gene(gRC,360,'Rpl37a',377,138,345,140,325,131);
gene(gRC,360,'COX2',395,163,370,160,318,131);
gene(gRC,360,'COX3',378,181,355,175,312,131);
gene(gRC,360,'H3f3c',330,193,325,185,305,131);
gene(gRC,360,'mt-Rnr2',73,185,95,195,100,210);
gene(gRC,360,'Rps26',153,181,155,190,155,210);
gene(gRC,360,'mt-Rnr1',93,222);
gene(gRC,360,'Rpl7a',131,243,140,235,153,220);
gene(gRC,360,'Sftpc',91,352);
gene(gRL,360,'COX3',348,455);
gene(gRL,360,'COX2',409,471);
gene(gRL,360,'COX1',399,507);
gene(gRL,360,'ATP6',324,515,340,520,350,530);
gene(gRL,360,'CYTB',389,545);
gene(gRL,360,'LOC680885',152,578,162,588,150,660);
gene(gRL,360,'Scgb3a1',116,600,142,608,133,672);
gene(gRL,360,'mt-Rnr1',93,622,113,630,107,658);
gene(gRL,360,'mt-Rnr2',60,645);
gene(gRL,360,'LOC120095153',100,689);
gene(gOC,360,'Rpl13a',603,166,620,175,628,182);
gene(gOC,360,'Cyp2f2',587,186);
gene(gOC,360,'Gnb2l1',598,205,620,198,628,185);
gene(gOC,360,'Scgb3a2',588,287);
gene(gOC,360,'Hbb-bs',577,353);
gene(gOC,360,'B2m',838,170,832,178,832,198);
gene(gOC,360,'Ly6i',883,179,870,185,860,192);
gene(gOC,360,'Ifi27l2a',862,223,855,212,857,197);
gene(gOC,360,'Lcn2',913,236);
gene(gOC,360,'AW112010',892,369);
gene(gOL,360,'Rpl13a',599,577,610,588,630,630);
gene(gOL,360,'Vimp',652,595,650,605,643,635);
gene(gOL,360,'Shfm1',579,623);
gene(gOL,360,'Tceb2',597,649,618,640,630,628);
gene(gOL,360,'Hbb-bs',552,683);
gene(gOL,360,'Cd177',871,553,850,568,845,600);
gene(gOL,360,'Ifitm3',896,571,870,585,845,612);
gene(gOL,360,'Lcn2',915,590);
gene(gOL,360,'H2-K1',896,622,875,615,865,608);
gene(gOL,360,'Retnla',881,645,855,640,838,625);

/* ========== Panel F ========== */
const speciesFill={human:'#3399ff',monkey:'#cc9900',rat:'#d9d9d9',mouse:'#4d4d4d'};
const colLeft=[287.7,364.3,440.7,517.3,594,670.3];
const rowStrip=[640,711.7,783,854,925];
const rowPanel=[[656,708.7],[726.7,781.7],[798.3,850.7],[869,921.7],[940,992.3]];
function smoothSide(pts){
  let d='';
  for(let i=0;i<pts.length-1;i++){
    const p0=pts[Math.max(0,i-1)],p1=pts[i],p2=pts[i+1],p3=pts[Math.min(pts.length-1,i+2)];
    const c1=[p1[0]+(p2[0]-p0[0])/6,p1[1]+(p2[1]-p0[1])/6],c2=[p2[0]-(p3[0]-p1[0])/6,p2[1]-(p3[1]-p1[1])/6];
    d+=`C${c1[0].toFixed(1)} ${c1[1].toFixed(1)} ${c2[0].toFixed(1)} ${c2[1].toFixed(1)} ${p2[0].toFixed(1)} ${p2[1].toFixed(1)}`;
  }
  return d;
}
function facet(geneName,col,row,ticks,dec,v1,p1,v2,p2,violins){
  const g=group('violin-facet-'+slug(geneName));
  const L=colLeft[col],W=49,[T,B]=rowPanel[row];
  const k=(p2-p1)/(v2-v1), Y=v=>p1+(v-v1)*k;
  tag(mk('rect',{x:L,y:rowStrip[row],width:W,height:T-rowStrip[row],fill:STRIP},g),'strip-'+slug(geneName));
  tag(mk('text',{x:L+W/2,y:T-4,'font-size':geneName.length>6?10.4:11,fill:'#333','text-anchor':'middle'},g,geneName),'strip-label-'+slug(geneName));
  tag(mk('rect',{x:L,y:T,width:W,height:B-T,fill:PANEL},g),'panel-'+slug(geneName));
  ticks.forEach(t=>{
    tag(mk('line',{x1:L,x2:L+W,y1:Y(t),y2:Y(t),stroke:GRID,'stroke-width':.7},g),'y-gridline');
    tag(mk('line',{x1:L-2,x2:L,y1:Y(t),y2:Y(t),stroke:'#333','stroke-width':.5},g),'y-tick');
    tag(mk('text',{x:L-2.5,y:Y(t)+4,'font-size':11.2,fill:'#333','text-anchor':'end'},g,t.toFixed(dec)),'y-tick-label');
  });
  const pos=violins.length==4?[8.5,19,31,41]:[13,36];
  pos.forEach(o=>tag(mk('line',{x1:L+o,x2:L+o,y1:T,y2:B,stroke:GRID,'stroke-width':.7},g),'x-gridline'));
  tag(mk('line',{x1:L+24.7,x2:L+24.7,y1:T,y2:B,stroke:'#333','stroke-width':.7,'stroke-dasharray':'2 1.5'},g),'divider-dashed-line');
  violins.forEach((v,i)=>{
    const [sp,lo,hi,dens,q1,med,q3,out]=v, cx=L+pos[i];
    const n=dens.length;
    const right=dens.map((d,j)=>[cx+d,Y(lo+(hi-lo)*j/(n-1))]);
    const left=dens.map((d,j)=>[cx-d,Y(lo+(hi-lo)*j/(n-1))]).reverse();
    const dPath=`M${right[0][0]} ${right[0][1]}`+smoothSide(right)+`L${left[0][0]} ${left[0][1]}`+smoothSide(left)+'Z';
    tag(mk('path',{d:dPath,fill:speciesFill[sp],stroke:'#333','stroke-width':.6},g),'violin-'+sp);
    tag(mk('line',{x1:cx,x2:cx,y1:Y(lo),y2:Y(hi),stroke:'#222','stroke-width':.6},g),'violin-whisker');
    out.forEach(o=>tag(mk('circle',{cx:cx,cy:Y(o),r:.95,fill:'#111'},g),'violin-outlier'));
    const bw=violins.length==4?3:5;
    tag(mk('rect',{x:cx-bw/2,y:Y(q3),width:bw,height:Math.max(.6,Y(q1)-Y(q3)),fill:'#fff',stroke:'#333','stroke-width':.45},g),'box-iqr');
    tag(mk('line',{x1:cx-bw/2,x2:cx+bw/2,y1:Y(med),y2:Y(med),stroke:'#111','stroke-width':.8},g),'box-median');
  });
  return g;
}
facet('ATF3',0,0,[0,.1,.2,.3,.4],1,.4,662.7,0,706.7,violinATF3);
facet('CEBPD',1,0,[.1,.2,.3,.4],1,.4,661,.1,698.3,violinCEBPD);
facet('EHF',2,0,[0,.1,.2,.3,.4],1,.4,663.7,0,707,violinEHF);
facet('FOSB',3,0,[0,.1,.2,.3,.4],1,.4,659.3,0,706.7,violinFOSB);
facet('IRF1',4,0,[0,.05,.1,.15,.2],2,.2,661,0,706.3,violinIRF1);
facet('JUNB',5,0,[.1,.2,.3],1,.3,667.7,.1,699.3,violinJUNB);
facet('NKX2-1',0,1,[0,.1,.2,.3],1,.3,739.7,0,777,violinNKX21);
facet('NR2F2',1,1,[0,.1,.2,.3,.4],1,.4,734.3,0,777,violinNR2F2);
facet('XBP1',2,1,[.15,.2,.25,.3],2,.3,734.7,.15,778.3,violinXBP1);
facet('CREB3L1',3,1,[.2,.3,.4],1,.4,740,.2,770.7,violinCREB3L1);
facet('SPDEF',4,1,[.2,.25,.3,.35,.4],2,.4,731.7,.2,777.7,violinSPDEF);
facet('HES1',5,1,[.3,.4,.5],1,.5,741,.3,776,violinHES1);
facet('BCLAF1',0,2,[.15,.2,.25],2,.25,810,.15,837.3,violinBCLAF1);
facet('FOS',1,2,[0,.1,.2,.3,.4],1,.4,807,0,847.3,violinFOS);
facet('PBX1',2,2,[0,.05,.1,.15],2,.15,799,0,847.7,violinPBX1);
facet('OVOL2',3,2,[.15,.2,.25,.3],2,.3,801.3,.15,840.7,violinOVOL2);
facet('IRF3',4,2,[0,.05,.1],2,.1,812.3,0,847.3,violinIRF3);
facet('FOXA2',5,2,[0,.05,.1,.15],2,.15,801.3,0,848,violinFOXA2);
facet('PURA',0,3,[0,.03,.06,.09,.12],2,.12,870.3,0,919,violinPURA);
facet('ZBTB7B',1,3,[0,.1,.2,.3],1,.3,876.7,0,919,violinZBTB7B);
facet('JUN',2,3,[0,.1,.2,.3],1,.3,871,0,919,violinJUN);
facet('JUND',3,3,[0,.05,.1,.15,.2],2,.2,877.7,0,919,violinJUND);
facet('NFIA',4,3,[.1,.15,.2],2,.2,875,.1,908.3,violinNFIA);
const gCEBPB=facet('CEBPB',5,3,[.1,.15,.2,.25,.3],2,.3,873,.1,912.7,violinCEBPB);
const gELF3=facet('ELF3',0,4,[.05,.1,.15,.2],2,.2,946.7,.05,987.7,violinELF3);
const gLTF=facet('LTF',1,4,[.05,.1,.15,.2],2,.2,952,.05,988.7,violinLTF);
const gIRF7=facet('IRF7',2,4,[.1,.2],1,.2,958.3,.1,978.3,violinIRF7);
const gSTAT2=facet('STAT2',3,4,[.1,.15,.2,.25,.3],2,.3,943.7,.1,986,violinSTAT2);
const gSTAT1=facet('STAT1',4,4,[.05,.1,.15,.2],2,.2,943.3,.05,983.3,violinSTAT1);
[[gELF3,0,992.3],[gLTF,1,992.3],[gIRF7,2,992.3],[gSTAT2,3,992.3],[gSTAT1,4,992.3],[gCEBPB,5,921.7]].forEach(([g,c,b])=>{
  [13,36].forEach((o,i)=>{
    tag(mk('line',{x1:colLeft[c]+o,x2:colLeft[c]+o,y1:b,y2:b+2,stroke:'#333','stroke-width':.5},g),'x-tick');
    rotLabel(g,degCells[i],colLeft[c]+o+4.5,b+8.5,11);
  });
});
</script>
</body>
</html>
